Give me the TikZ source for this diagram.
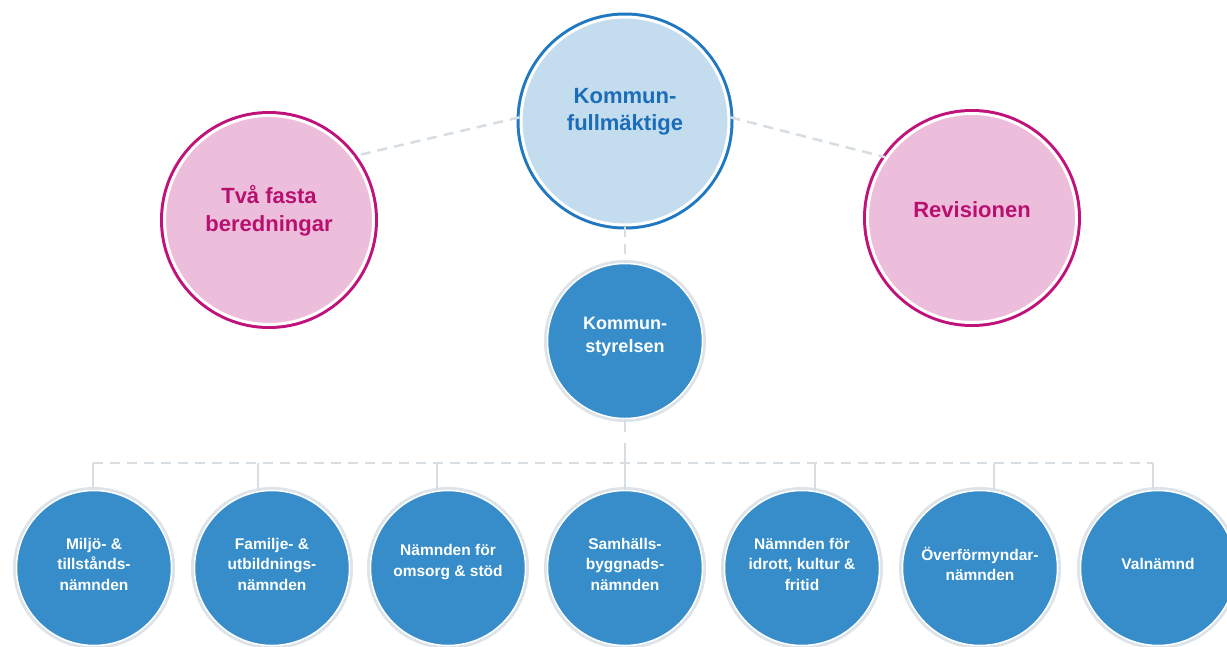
\documentclass[tikz,border=0pt]{standalone}
\usepackage{fontspec}
\setmainfont{Liberation Sans}
\definecolor{topfill}{HTML}{C3DDEF}
\definecolor{topring}{HTML}{1F78C1}
\definecolor{toptext}{HTML}{1C6DB8}
\definecolor{pinkfill}{HTML}{EDBEDB}
\definecolor{pinkring}{HTML}{C1127C}
\definecolor{pinktext}{HTML}{B8106F}
\definecolor{bluefill}{HTML}{368DC9}
\definecolor{bluering}{HTML}{DCE3E9}
\definecolor{linkc}{HTML}{D6DEE4}
\begin{document}
\begin{tikzpicture}[x=1pt,y=-1pt,
  bigcirc/.style n args={3}{circle, inner sep=0pt, minimum size=#1, fill=#2, draw=white, line width=3pt,
     preaction={draw=#3, line width=9pt}},
  bluecirc/.style={circle, inner sep=0pt, minimum size=155pt, fill=bluefill, draw=white, line width=1.5pt,
     preaction={draw=bluering, line width=7pt}},
  toptxt/.style={align=center, font=\bfseries\fontsize{22}{27}\selectfont, text=toptext, inner sep=0pt},
  pinktxt/.style={align=center, font=\bfseries\fontsize{22}{28}\selectfont, text=pinktext, inner sep=0pt},
  midtxt/.style={align=center, font=\bfseries\fontsize{18}{23}\selectfont, text=white, inner sep=0pt},
  smalltxt/.style={align=center, font=\bfseries\fontsize{15.5}{20.5}\selectfont, text=white, inner sep=0pt},
  dashlink/.style={draw=linkc, line width=2.5pt, dash pattern=on 10pt off 7pt},
  solidlink/.style={draw=linkc, line width=2.5pt}
]
\useasboundingbox (0,0) rectangle (1227,646);
\fill[white] (0,0) rectangle (1227,646);

\node[bigcirc={208pt}{topfill}{topring}] (kf) at (625,121) {};
\node[bigcirc={209pt}{pinkfill}{pinkring}] (tfb) at (269,220) {};
\node[bigcirc={209pt}{pinkfill}{pinkring}] (rev) at (972,218) {};
\node[bluecirc] (ks) at (625,341) {};

\foreach \i/\x in {1/94,2/272,3/448,4/625,5/802,6/980,7/1158}{
  \node[bluecirc] (c\i) at (\x,568) {};
}
\foreach \i/\x in {1/93,2/258,3/437,4/625,5/815,6/994,7/1153}{
  \coordinate (b\i) at (\x,463);
}

\draw[dashlink] (kf.178) -- (tfb.37);
\draw[dashlink] (kf.2) -- (rev.145);
\draw[dashlink] (kf.south) -- (ks.north);
\draw[draw=linkc, line width=2.5pt, dash pattern=on 13pt off 11pt on 60pt off 0pt] (ks.south) -- (c4.north);
\draw[dashlink] (b1) -- (b7);
\foreach \i in {1,2,3,5,6,7}{
  \draw[solidlink] (b\i) -- (b\i |- c\i.north);
}

\node[toptxt] (kft) at (625,112) {Kommun-\\fullmäktige};
\node[pinktxt] (tfbt) at (269,211) {Två fasta\\beredningar};
\node[pinktxt] (revt) at (972,210) {Revisionen};
\node[midtxt] (kst) at (625,337) {Kommun-\\styrelsen};
\node[smalltxt] (t1) at (94,564) {Miljö- \&\\tillstånds-\\nämnden};
\node[smalltxt] (t2) at (272,564) {Familje- \&\\utbildnings-\\nämnden};
\node[smalltxt] (t3) at (448,562) {Nämnden för\\omsorg \& stöd};
\node[smalltxt] (t4) at (625,564) {Samhälls-\\byggnads-\\nämnden};
\node[smalltxt] (t5) at (802,564) {Nämnden för\\idrott, kultur \&\\fritid};
\node[smalltxt] (t6) at (980,564) {Överförmyndar-\\nämnden};
\node[smalltxt] (t7) at (1158,564) {Valnämnd};
\end{tikzpicture}
\end{document}
